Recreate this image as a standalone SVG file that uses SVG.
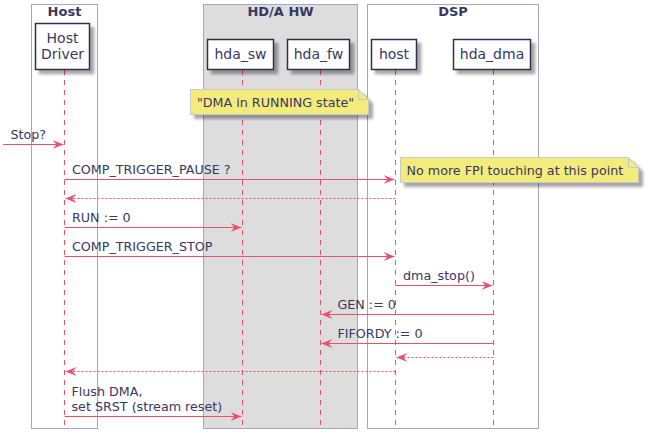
<svg xmlns="http://www.w3.org/2000/svg" width="649" height="445" viewBox="0 0 649 445">
<defs>
<filter id="sh" x="-20%" y="-20%" width="150%" height="160%">
<feGaussianBlur in="SourceAlpha" stdDeviation="1.7"/>
<feOffset dx="4" dy="4" result="b"/>
<feComponentTransfer><feFuncA type="linear" slope="0.35"/></feComponentTransfer>
<feMerge><feMergeNode/><feMergeNode in="SourceGraphic"/></feMerge>
</filter>
<marker id="ah" viewBox="0 0 11 9" refX="11" refY="4.5" markerWidth="11" markerHeight="9" markerUnits="userSpaceOnUse" orient="auto">
<polygon points="0,0 11,4.5 0,9 4,4.5" fill="#EA4F6C"/>
</marker>
</defs>
<style>
.box{fill:none;stroke:#A8A4C8;stroke-width:1}
.boxt{font-family:"DejaVu Sans",sans-serif;font-size:13px;font-weight:bold;fill:#383860;text-anchor:middle}
.part{fill:#FFFFFF;stroke:#2E2E50;stroke-width:1.5;filter:url(#sh)}
.pt{font-family:"DejaVu Sans",sans-serif;font-size:14px;fill:#383860;text-anchor:middle}
.life{stroke:#EA4F6C;stroke-width:1;stroke-dasharray:5,5}
.msg{stroke:#EA4F6C;stroke-width:1;fill:none;marker-end:url(#ah)}
.ret{stroke:#EA4F6C;stroke-width:1;fill:none;stroke-dasharray:2,2;marker-end:url(#ah)}
.ml{font-family:"DejaVu Sans",sans-serif;font-size:12.7px;fill:#383860}
.note{fill:#F3EB7C;stroke:#C9C9C9;stroke-width:1;filter:url(#sh)}
.fold{fill:none;stroke:#C9C9C9;stroke-width:1}
</style>
<g id="boxes">
<rect class="box" x="31.5" y="4.5" width="66" height="424"/>
<text class="boxt" x="64.5" y="16">Host</text>
<rect class="box" x="203.5" y="4.5" width="154" height="424" style="fill:#DDDDDD"/>
<text class="boxt" x="280.5" y="16">HD/A HW</text>
<rect class="box" x="367.5" y="4.5" width="171" height="424"/>
<text class="boxt" x="453" y="16">DSP</text>
</g>
<g id="lifelines">
<line class="life" x1="64.5" y1="70" x2="64.5" y2="428"/>
<line class="life" x1="242.5" y1="70" x2="242.5" y2="428"/>
<line class="life" x1="320.5" y1="70" x2="320.5" y2="428"/>
<line class="life" x1="395.5" y1="70" x2="395.5" y2="428"/>
<line class="life" x1="493.5" y1="70" x2="493.5" y2="428"/>
</g>
<g id="p-hostdriver">
<rect class="part" x="35.5" y="23.5" width="54" height="46"/>
<text class="pt" x="62.5" y="43">Host</text>
<text class="pt" x="62.5" y="59">Driver</text>
</g>
<g id="p-hda_sw">
<rect class="part" x="207.5" y="39.5" width="66" height="30"/>
<text class="pt" x="240.5" y="59">hda_sw</text>
</g>
<g id="p-hda_fw">
<rect class="part" x="287.5" y="39.5" width="62" height="30"/>
<text class="pt" x="318.5" y="59">hda_fw</text>
</g>
<g id="p-host">
<rect class="part" x="371.5" y="39.5" width="45" height="30"/>
<text class="pt" x="394" y="59">host</text>
</g>
<g id="p-hda_dma">
<rect class="part" x="453.5" y="39.5" width="77" height="30"/>
<text class="pt" x="492" y="59">hda_dma</text>
</g>
<g id="note-running">
<path class="note" d="M190.5,89.5 L358.5,89.5 L368.5,99.5 L368.5,114.5 L190.5,114.5 Z"/>
<path class="fold" d="M358.5,89.5 L358.5,99.5 L368.5,99.5"/>
<text class="ml" x="197" y="107">"DMA in RUNNING state"</text>
</g>
<g id="note-fpi">
<path class="note" d="M400.5,157.5 L628.5,157.5 L638.5,167.5 L638.5,182.5 L400.5,182.5 Z"/>
<path class="fold" d="M628.5,157.5 L628.5,167.5 L638.5,167.5"/>
<text class="ml" x="406.5" y="175">No more FPI touching at this point</text>
</g>
<g id="connectors">
<line class="msg" x1="3" y1="144.5" x2="63.5" y2="144.5"/>
<text class="ml" x="10.5" y="139">Stop?</text>
<line class="msg" x1="64.5" y1="179.5" x2="394.5" y2="179.5"/>
<text class="ml" x="72" y="174">COMP_TRIGGER_PAUSE ?</text>
<line class="ret" x1="395.5" y1="198.5" x2="65.5" y2="198.5"/>
<line class="msg" x1="64.5" y1="227.5" x2="241.5" y2="227.5"/>
<text class="ml" x="72" y="222">RUN := 0</text>
<line class="msg" x1="64.5" y1="256.5" x2="394.5" y2="256.5"/>
<text class="ml" x="72" y="251">COMP_TRIGGER_STOP</text>
<line class="msg" x1="395.5" y1="285.5" x2="492.5" y2="285.5"/>
<text class="ml" x="403" y="280">dma_stop()</text>
<line class="msg" x1="493.5" y1="314.5" x2="321.5" y2="314.5"/>
<text class="ml" x="337.5" y="309">GEN := 0</text>
<line class="msg" x1="493.5" y1="343.5" x2="321.5" y2="343.5"/>
<text class="ml" x="337.5" y="338">FIFORDY := 0</text>
<line class="ret" x1="493.5" y1="357.5" x2="396.5" y2="357.5"/>
<line class="ret" x1="395.5" y1="371.5" x2="65.5" y2="371.5"/>
<line class="msg" x1="64.5" y1="416.5" x2="241.5" y2="416.5"/>
<text class="ml" x="71.5" y="396">Flush DMA,</text>
<text class="ml" x="71.5" y="411">set SRST (stream reset)</text>
</g>
</svg>
